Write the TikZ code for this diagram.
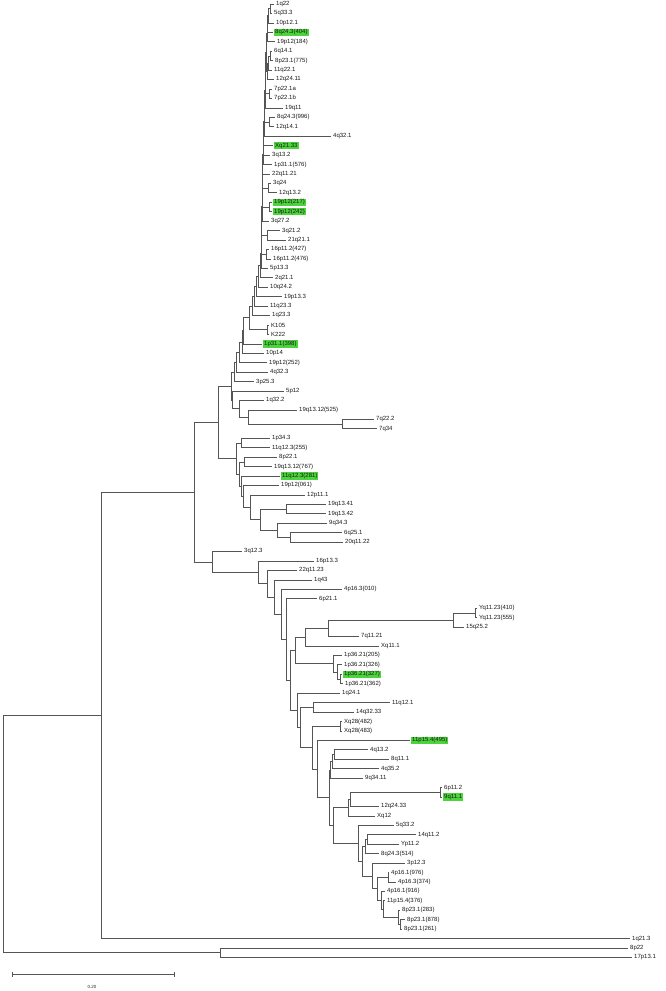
\documentclass[tikz,border=0pt]{standalone}
\usepackage{fontspec}
\setmainfont{Liberation Sans}
\usetikzlibrary{calc}
\definecolor{hl}{RGB}{76,212,60}
\definecolor{ln}{RGB}{85,85,85}
\tikzset{
  br/.style={draw=ln,line width=0.65pt},
  lab/.style={anchor=west,font=\fontsize{6}{7}\selectfont,inner xsep=1pt,inner ysep=0.9pt,text=black!90},
  glab/.style={lab,fill=hl},
  sbar/.style={draw=ln,line width=0.65pt},
}
\newcommand{\lf}[4]{%
  \coordinate (#1) at (#3,{4+9.44*(#2-1)});
  \node[lab] (#1t) at ($(#1)+(1,0)$) {#4};}
\newcommand{\glf}[4]{%
  \coordinate (#1) at (#3,{4+9.44*(#2-1)});
  \node[glab] (#1t) at ($(#1)+(1,0)$) {#4};}
\newcommand{\inode}[4]{%
  \path let \p1=($(#3)!0.5!(#4)$) in coordinate (#1) at (#2pt,\y1);
  \draw[br] (#1) |- (#3);
  \draw[br] (#1) |- (#4);}
\begin{document}
\begin{tikzpicture}[x=1pt,y=-1pt]
\useasboundingbox (0,0) rectangle (666,991);
% leaves
\lf{l1}{1}{274}{1q22}
\lf{l2}{2}{272}{5q33.3}
\lf{l3}{3}{274}{10p12.1}
\glf{l4}{4}{273}{8q24.3(404)}
\lf{l5}{5}{275}{19p12(184)}
\lf{l6}{6}{272}{6q14.1}
\lf{l7}{7}{273}{8p23.1(775)}
\lf{l8}{8}{272}{11q22.1}
\lf{l9}{9}{274}{12q24.11}
\lf{l10}{10}{272}{7p22.1a}
\lf{l11}{11}{272}{7p22.1b}
\lf{l12}{12}{283}{19q11}
\lf{l13}{13}{275}{8q24.3(996)}
\lf{l14}{14}{274}{12q14.1}
\lf{l15}{15}{331}{4q32.1}
\glf{l16}{16}{273}{Xq21.33}
\lf{l17}{17}{270}{3q13.2}
\lf{l18}{18}{272}{1p31.1(576)}
\lf{l19}{19}{270}{22q11.21}
\lf{l20}{20}{271}{3q24}
\lf{l21}{21}{277}{12q13.2}
\glf{l22}{22}{272}{19p12(217)}
\glf{l23}{23}{272}{19p12(242)}
\lf{l24}{24}{269}{3q27.2}
\lf{l25}{25}{280}{3q21.2}
\lf{l26}{26}{286}{21q21.1}
\lf{l27}{27}{269}{16p11.2(427)}
\lf{l28}{28}{271}{16p11.2(476)}
\lf{l29}{29}{268}{5p13.3}
\lf{l30}{30}{273}{2q21.1}
\lf{l31}{31}{268}{10q24.2}
\lf{l32}{32}{282}{19p13.3}
\lf{l33}{33}{268}{11q23.3}
\lf{l34}{34}{270}{1q23.3}
\lf{l35}{35}{269}{K105}
\lf{l36}{36}{269}{K222}
\glf{l37}{37}{262}{1p31.1(398)}
\lf{l38}{38}{264}{10p14}
\lf{l39}{39}{267}{19p12(252)}
\lf{l40}{40}{268}{4q32.3}
\lf{l41}{41}{254}{3p25.3}
\lf{l42}{42}{284}{5p12}
\lf{l43}{43}{264}{1q32.2}
\lf{l44}{44}{297}{19q13.12(525)}
\lf{l45}{45}{374}{7q22.2}
\lf{l46}{46}{377}{7q34}
\lf{l47}{47}{270}{1p34.3}
\lf{l48}{48}{270}{11q12.3(255)}
\lf{l49}{49}{277}{8p22.1}
\lf{l50}{50}{272}{19q13.12(767)}
\glf{l51}{51}{280}{11q12.3(281)}
\lf{l52}{52}{279}{19p12(061)}
\lf{l53}{53}{305}{12p11.1}
\lf{l54}{54}{326}{19q13.41}
\lf{l55}{55}{326}{19q13.42}
\lf{l56}{56}{327}{9q34.3}
\lf{l57}{57}{342}{6q25.1}
\lf{l58}{58}{343}{20q11.22}
\lf{l59}{59}{242}{3q12.3}
\lf{l60}{60}{314}{16p13.3}
\lf{l61}{61}{297}{22q11.23}
\lf{l62}{62}{312}{1q43}
\lf{l63}{63}{342}{4p16.3(010)}
\lf{l64}{64}{317}{6p21.1}
\lf{l65}{65}{477}{Yq11.23(410)}
\lf{l66}{66}{477}{Yq11.23(555)}
\lf{l67}{67}{464}{15q25.2}
\lf{l68}{68}{359}{7q11.21}
\lf{l69}{69}{379}{Xq11.1}
\lf{l70}{70}{342}{1p36.21(205)}
\lf{l71}{71}{342}{1p36.21(326)}
\glf{l72}{72}{342}{1p36.21(327)}
\lf{l73}{73}{343}{1p36.21(362)}
\lf{l74}{74}{340}{1q24.1}
\lf{l75}{75}{390}{11q12.1}
\lf{l76}{76}{354}{14q32.33}
\lf{l77}{77}{342}{Xq28(482)}
\lf{l78}{78}{342}{Xq28(483)}
\glf{l79}{79}{410}{11p15.4(495)}
\lf{l80}{80}{368}{4q13.2}
\lf{l81}{81}{389}{8q11.1}
\lf{l82}{82}{379}{4q35.2}
\lf{l83}{83}{363}{9q34.11}
\lf{l84}{84}{442}{6p11.2}
\glf{l85}{85}{442}{9q11.1}
\lf{l86}{86}{379}{12q24.33}
\lf{l87}{87}{375}{Xq12}
\lf{l88}{88}{394}{5q33.2}
\lf{l89}{89}{416}{14q11.2}
\lf{l90}{90}{399}{Yp11.2}
\lf{l91}{91}{379}{8q24.3(514)}
\lf{l92}{92}{405}{3p12.3}
\lf{l93}{93}{389}{4p16.1(976)}
\lf{l94}{94}{396}{4p16.3(374)}
\lf{l95}{95}{385}{4p16.1(916)}
\lf{l96}{96}{385}{11p15.4(376)}
\lf{l97}{97}{400}{8p23.1(283)}
\lf{l98}{98}{405}{8p23.1(878)}
\lf{l99}{99}{402}{8p23.1(261)}
\lf{l100}{100}{630}{1q21.3}
\lf{l101}{101}{628}{8p22}
\lf{l102}{102}{632}{17p13.1}
% top comb
\inode{T1}{270}{l1}{l2}
\inode{T2}{268.5}{T1}{l3}
\inode{T3}{267.5}{T2}{l4}
\inode{T4}{267}{T3}{l5}
\inode{T5}{270}{l6}{l7}
\inode{T6}{268.5}{T5}{l8}
\inode{T7}{267.5}{T6}{l9}
\inode{T8}{266}{T4}{T7}
\inode{T9}{269.5}{l10}{l11}
\inode{T10}{265.5}{T8}{T9}
\inode{T11}{265}{T10}{l12}
\inode{T12}{269}{l13}{l14}
\inode{T13}{264.5}{T11}{T12}
\inode{T14}{264}{T13}{l15}
\inode{T15}{263.7}{T14}{l16}
\inode{T16}{263.4}{T15}{l17}
\inode{T17}{263.1}{T16}{l18}
\inode{T18}{262.8}{T17}{l19}
\inode{T19}{268}{l20}{l21}
\inode{T20}{262.5}{T18}{T19}
\inode{T21}{269}{l22}{l23}
\inode{T22}{262.2}{T20}{T21}
\inode{T23}{262}{T22}{l24}
\inode{T24}{267}{l25}{l26}
\inode{T25}{261.7}{T23}{T24}
\inode{T26}{266.5}{l27}{l28}
\inode{T27}{261.4}{T25}{T26}
\inode{T28}{261}{T27}{l29}
\inode{T29}{260}{T28}{l30}
\inode{T30}{258.5}{T29}{l31}
\inode{T31}{256.5}{T30}{l32}
\inode{T32}{254.5}{T31}{l33}
\inode{T33}{252.5}{T32}{l34}
\inode{T34}{267}{l35}{l36}
\inode{T35}{249.5}{T33}{T34}
\inode{T36}{243.5}{T35}{l37}
\inode{T37}{242}{T36}{l38}
\inode{T38}{239.5}{T37}{l39}
\inode{T39}{236.7}{T38}{l40}
\inode{T40}{234}{T39}{l41}
\inode{U1}{342}{l45}{l46}
\inode{U2}{248}{l44}{U1}
\inode{U3}{239}{l43}{U2}
\inode{U4}{232}{l42}{U3}
\inode{F}{231}{T40}{U4}
% G clade
\inode{V1}{241}{l47}{l48}
\inode{V9}{244}{l49}{l50}
\inode{V2}{286}{l54}{l55}
\inode{V3}{290}{l57}{l58}
\inode{V4}{277}{l56}{V3}
\inode{V5}{260}{V2}{V4}
\inode{V6}{250}{l53}{V5}
\inode{V7}{243}{l52}{V6}
\inode{V8}{241.5}{l51}{V7}
\inode{V10}{239.5}{V9}{V8}
\inode{G}{236}{V1}{V10}
\inode{D}{218}{F}{G}
% E clade
\inode{Y1}{475}{l65}{l66}
\inode{Y2}{453}{Y1}{l67}
\inode{Y3}{328}{Y2}{l68}
\inode{Y4}{305}{Y3}{l69}
\inode{P1}{340}{l72}{l73}
\inode{P2}{337}{l71}{P1}
\inode{P3}{333}{l70}{P2}
\inode{NA}{295}{Y4}{P3}
\inode{C1}{313}{l75}{l76}
\inode{X1}{340}{l77}{l78}
\inode{K1}{334}{l80}{l81}
\inode{K2}{332}{K1}{l82}
\inode{K3}{330}{K2}{l83}
\inode{J1}{440}{l84}{l85}
\inode{J2}{350}{J1}{l86}
\inode{J3}{348}{J2}{l87}
\inode{S10}{400}{l98}{l99}
\inode{S9}{398}{l97}{S10}
\inode{S8}{383}{l96}{S9}
\inode{S7}{381}{l95}{S8}
\inode{S6}{388}{l93}{l94}
\inode{S5}{377}{S6}{S7}
\inode{S4}{372}{l92}{S5}
\inode{S2a}{367}{l89}{l90}
\inode{S3}{365}{S2a}{l91}
\inode{S2}{362}{S3}{S4}
\inode{S}{358}{l88}{S2}
\inode{J4}{333}{J3}{S}
\inode{K}{329}{K3}{J4}
\inode{M2}{317}{l79}{K}
\inode{M}{312}{X1}{M2}
\inode{NC}{300}{C1}{M}
\inode{NB}{297}{l74}{NC}
\inode{H6}{290}{NA}{NB}
\inode{H5}{286}{l64}{H6}
\inode{H4}{281}{l63}{H5}
\inode{H3}{274}{l62}{H4}
\inode{H2}{267}{l61}{H3}
\inode{H}{258}{l60}{H2}
\inode{E}{212}{l59}{H}
\inode{B}{194}{D}{E}
\inode{A}{101}{B}{l100}
\inode{C}{220}{l101}{l102}
\inode{R}{3}{A}{C}
% scale bar
\coordinate (sb1) at (12,974);
\coordinate (sb2) at (174,974);
\draw[sbar] (sb1) -- (sb2);
\draw[sbar] ($(sb1)+(0,-2.5)$) -- ($(sb1)+(0,2.5)$);
\draw[sbar] ($(sb2)+(0,-2.5)$) -- ($(sb2)+(0,2.5)$);
\node[font=\fontsize{4.5}{5}\selectfont,text=black!85] (sbt) at (92,987) {0.20};
\end{tikzpicture}
\end{document}
